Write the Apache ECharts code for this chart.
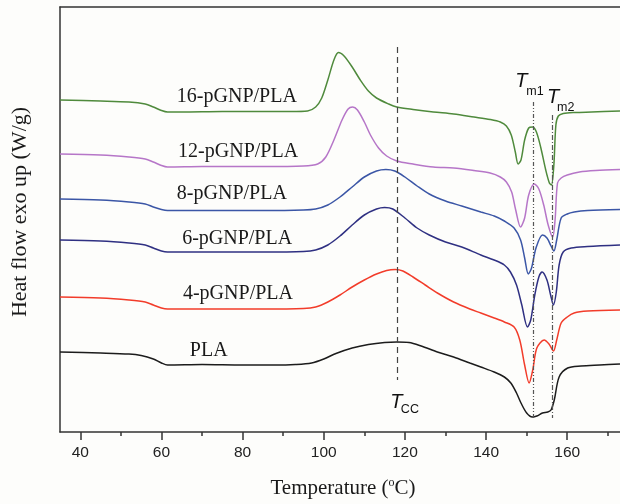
<!DOCTYPE html>
<html><head><meta charset="utf-8">
<script src="https://cdn.jsdelivr.net/npm/echarts@6/dist/echarts.min.js"></script>
<style>html,body{margin:0;padding:0;background:#fdfdfb}#c{width:620px;height:504px}</style>
</head><body><div id="c"></div>
<script>
// Temperatures (°C) and heat flow (arbitrary units, offset curves, exo up)
const tG16 = [35,45,52,56,58,60,61.5,65,75,85,92,96,98,99.5,101,102.5,103.6,105,107,109,111,113,116,118,122,127,132,137,141,143.5,145,146.2,147.2,147.9,148.6,149.5,150.5,151.4,152.4,153.5,154.7,155.6,156.1,156.7,157.2,157.8,159,162,166,173];
const hG16 = [332,331,330,328,325,321.5,320,320,320.5,320.5,320.5,321,325,334,352,372,379.5,376,365,352,341,334,328,325,322.5,320,318,315,312.5,310,306,297,280,268,272,292,304,305,300,284,262,249,247,267,307,316,318.5,319.5,320,321];

const tG12 = [35,45,52,56,58,60,61.5,70,85,95,98.5,100.5,102.5,104.5,106,107.1,108.3,110,111.5,113.5,115.5,118,122,127,132,137,141,143.5,145,146.3,147.3,148.5,149.5,150.5,151.9,153,154.2,155.3,156.4,157,157.6,158.5,160,163,167,173];
const hG12 = [278,277,275,273,270,266.5,265,265.5,265.5,266,268,275,292,312,323,325,322,310,297,284,276,271,268,265,264,261.5,259,255,250,240,222,205,214,237,248,243,227,207,195,212,249,254,257,260,261.5,262.5];

const tG8 = [35,45,52,56,58,60,61.5,70,85,95,98,101,104,107,110,113,115.3,117.5,120,123,126,130,134,138.7,142,144.5,146.9,148.5,149.5,150.4,151.2,152.3,153.9,155,156,156.7,157.4,158.5,160,161.7,165,173];
const hG8 = [233,232,230,228,225,222.5,221.5,221.5,221.5,222,223,227,235,245,255,261,262.5,261,255,246,238,231,226,220,216,211,204,192,174,158,164,184,197,194,186,181,192,214,218,220,221.5,222.5];

const tG6 = [35,45,52,56,58,60,61.5,70,85,95,98,101,104,107,110,113,115,117,120,123,126,130,134,138.7,142,144.5,146,147.5,148.8,150.2,151,152,153,153.8,155,155.9,156.6,157.3,158,159,161,165,173];
const hG6 = [192,191,189,187,184,181,180,180,180,180.5,182,187,196,207,217,223,224.5,223,214,204,197,190,185,177,172,167,160,147,127,105,112,137,155,160,152,137,127,140,167,180,184,185.5,187];

const tG4 = [35,45,52,56,58,60,61.5,70,85,95,98,101,104,107,110,113,115.5,117.6,119.5,122,125,128,132,136,138.7,142,144.5,146.9,148.3,149.5,150.6,151.5,152.5,154.3,155.5,156.6,157.4,158.5,160,161.7,165,173];
const hG4 = [135,134,132,130,127,124,123,123,123,123.5,125,130,137,145,152,158,161.5,162.5,161,155,147,139,130,123,119,114,110,105,92,67,49,62,84,92,88,81,92,109,115,119,121,122];

const tPLA = [35,45,52,55,58,60,61.5,70,80,88,93,97,100,103,107,111,115,118,121,124,128,132,136,138.7,142,144.5,146.1,147.5,148.6,150,151.4,152.5,153.9,155.2,156,156.8,158,160.1,163.4,168,173];
const hPLA = [80,79,78,76.5,73,69,67,67.5,67,67,67.5,69,73,78.5,84,87.5,89.5,90,89.5,86,80,75,69,65,60,55,49,39,29,19,15,16,19,20,22,32,55,64,66,67,68];

const seriesNames = ['16-pGNP/PLA','12-pGNP/PLA','8-pGNP/PLA','6-pGNP/PLA','4-pGNP/PLA','PLA'];
const seriesColors = ['#4f8a3c','#b676c8','#3b56a6','#2f3082','#f23c2a','#1c1c1c'];
const xLabelTicks = [40,60,80,100,120,140,160];
const xMinorTicks = [50,70,90,110,130,150,170];

// characteristic temperatures
const Tcc = 118.1, Tm1 = 151.7, Tm2 = 156.2;
const TccSpan = [385,52], Tm1Span = [330,14], Tm2Span = [317,14];

// label anchors [T, heat flow]
const nameAnchors = [[63.8,335],[64.1,280],[63.8,238],[65.1,193],[65.3,138],[67.0,81]];

const temps = [tG16,tG12,tG8,tG6,tG4,tPLA];
const flows = [hG16,hG12,hG8,hG6,hG4,hPLA];

const chart = echarts.init(document.getElementById('c'), null, {renderer:'canvas'});
const serif = '"Liberation Serif","Times New Roman",serif';
const sans = '"Liberation Sans",Arial,sans-serif';

const series = temps.map((t,i)=>({
  type:'line', name:seriesNames[i], data:t.map((x,j)=>[x,flows[i][j]]),
  showSymbol:false, smooth:0.3, lineStyle:{color:seriesColors[i],width:1.5}, silent:true, z:3
}));
series.push({
  type:'line', data:[], silent:true,
  markLine:{symbol:'none', silent:true, label:{show:false}, animation:false,
    data:[
      [{coord:[Tcc,TccSpan[0]], lineStyle:{color:'#444',type:[6,4],width:1.2}},{coord:[Tcc,TccSpan[1]]}],
      [{coord:[Tm1,Tm1Span[0]], lineStyle:{color:'#555',type:[4,2,1,2,1,2],width:1.2}},{coord:[Tm1,Tm1Span[1]]}],
      [{coord:[Tm2,Tm2Span[0]], lineStyle:{color:'#555',type:[5,2,1,2],width:1.2}},{coord:[Tm2,Tm2Span[1]]}]
    ]}
});

chart.setOption({
  animation:false,
  backgroundColor:'#fdfdfb',
  grid:{left:60,top:7,right:0,bottom:72},
  xAxis:[
    {type:'value',min:35,max:173,position:'bottom',
     axisLine:{lineStyle:{color:'#333',width:1.5}},
     axisTick:{show:true,inside:false,length:8,customValues:xLabelTicks,lineStyle:{color:'#333',width:1.5}},
     axisLabel:{customValues:xLabelTicks,fontFamily:sans,fontSize:15.5,color:'#222',margin:13},
     splitLine:{show:false}},
    {type:'value',min:35,max:173,position:'bottom',
     axisLine:{show:false},
     axisTick:{show:true,length:4,customValues:xMinorTicks,lineStyle:{color:'#333',width:1.5}},
     axisLabel:{show:false},splitLine:{show:false}},
    {type:'value',min:35,max:173,position:'top',
     axisLine:{lineStyle:{color:'#333',width:1.5}},axisTick:{show:false},axisLabel:{show:false},splitLine:{show:false}}
  ],
  yAxis:{type:'value',min:0,max:425,axisLine:{show:true,lineStyle:{color:'#333',width:1.5}},
    axisTick:{show:false},axisLabel:{show:false},splitLine:{show:false}},
  series:series
});

function px(p){return chart.convertToPixel({xAxisIndex:0,yAxisIndex:0},p);}
const g = [];
nameAnchors.forEach((a,i)=>{
  const p = px(a);
  g.push({type:'text',x:p[0],y:p[1],style:{text:seriesNames[i],font:'20px '+serif,fill:'#1a1a1a',textAlign:'left',textVerticalAlign:'middle'}});
});
function tLabel(tAnchor, subAnchor, sub){
  const p = px(tAnchor), q = px(subAnchor);
  g.push({type:'text',x:p[0],y:p[1],style:{text:'T',font:'italic 20px '+sans,fill:'#111',textAlign:'left',textVerticalAlign:'middle'}});
  g.push({type:'text',x:q[0],y:q[1],style:{text:sub,font:'12.5px '+sans,fill:'#111',textAlign:'left',textVerticalAlign:'middle'}});
}
tLabel([147.2,351],[149.9,340],'m1');
tLabel([155.0,335],[157.5,324],'m2');
tLabel([116.4,30],[119.0,22],'CC');
g.push({type:'text',x:20,y:212,rotation:Math.PI/2,style:{text:'Heat flow exo up (W/g)',font:'22px '+serif,fill:'#1a1a1a',textAlign:'center',textVerticalAlign:'middle'}});
g.push({type:'text',x:343,y:488,style:{
  text:'Temperature ({s|o}C)',font:'21px '+serif,fill:'#1a1a1a',textAlign:'center',textVerticalAlign:'middle',
  rich:{s:{fontSize:12,fontFamily:serif,verticalAlign:'top',padding:[0,0,10,0],fill:'#1a1a1a'}}}});
chart.setOption({graphic:g});
</script></body></html>
